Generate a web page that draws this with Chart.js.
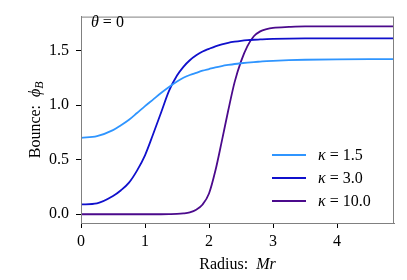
<!DOCTYPE html>
<html>
<head>
<meta charset="utf-8">
<script src="https://cdn.jsdelivr.net/npm/chart.js@4"></script>
<style>
  html, body { margin: 0; padding: 0; background: #fff; }
  #wrap { width: 407px; height: 280px; }
</style>
</head>
<body>
<div id="wrap"><canvas id="bounce" width="407" height="280"></canvas></div>
<script>
// radius grid (Mr) and bounce profiles
const radius  = [0, 0.25, 0.5, 0.625, 0.75, 0.875, 1.0, 1.125, 1.25, 1.375, 1.5, 1.6, 1.7, 1.8, 1.9, 2.0, 2.1, 2.2, 2.3, 2.4, 2.5, 2.6, 2.7, 2.8, 2.9, 3.0, 3.25, 3.5, 4.0, 4.5, 4.9];
const phiK15  = [0.70, 0.715, 0.77, 0.815, 0.865, 0.927, 0.99, 1.05, 1.11, 1.165, 1.215, 1.25, 1.275, 1.295, 1.315, 1.33, 1.345, 1.357, 1.367, 1.376, 1.383, 1.389, 1.394, 1.398, 1.402, 1.405, 1.411, 1.415, 1.419, 1.42, 1.42];
const phiK30  = [0.09, 0.10, 0.167, 0.22, 0.29, 0.40, 0.54, 0.73, 0.93, 1.13, 1.27, 1.35, 1.41, 1.455, 1.49, 1.515, 1.538, 1.556, 1.57, 1.58, 1.588, 1.594, 1.598, 1.601, 1.604, 1.606, 1.609, 1.61, 1.61, 1.61, 1.61];
const phiK100 = [0.0, 0.0, 0.0, 0.0, 0.0, 0.0, 0.0, 0.0, 0.0, 0.001, 0.003, 0.008, 0.018, 0.042, 0.09, 0.19, 0.40, 0.67, 0.95, 1.21, 1.40, 1.54, 1.63, 1.675, 1.695, 1.706, 1.715, 1.72, 1.72, 1.72, 1.72];
const kappas = ["1.5", "3.0", "10.0"];
const colors = ["#2f95ff", "#1010cc", "#4b0a8c"];
const xTicks = [0, 1, 2, 3, 4];
const yTicks = [0.0, 0.5, 1.0, 1.5];

const serif = '"Liberation Serif", "DejaVu Serif", serif';

function pts(ys) {
  return radius.map((r, i) => ({ x: r, y: ys[i] }));
}

// draw a run of text pieces, some italic, some subscript
function drawRich(ctx, parts, x, y, align) {
  const fontOf = p => (p.it ? "italic " : "") + (p.sub ? "12px " : "16px ") + serif;
  const widths = parts.map(p => {
    ctx.font = fontOf(p);
    return ctx.measureText(p.t).width;
  });
  const total = widths.reduce((a, b) => a + b, 0);
  let cx = align === "center" ? x - total / 2 : x;
  parts.forEach((p, i) => {
    ctx.font = fontOf(p);
    ctx.fillText(p.t, cx, y + (p.sub ? 3 : 0));
    cx += widths[i];
  });
}

const annotate = {
  id: "annotate",
  afterDraw(chart) {
    const ctx = chart.ctx;
    const a = chart.chartArea;
    ctx.save();
    // frame
    ctx.strokeStyle = "#808080";
    ctx.lineWidth = 1;
    ctx.strokeRect(a.left + 0.5, a.top + 0.5, a.right - a.left - 1, a.bottom - a.top);
    ctx.fillStyle = "#000";
    ctx.textBaseline = "alphabetic";
    ctx.textAlign = "left";
    // theta label
    drawRich(ctx, [{ t: "θ", it: true }, { t: " = 0" }], a.left + 10, 27, "left");
    // legend
    kappas.forEach((k, i) => {
      const y = 155 + i * 23;
      ctx.strokeStyle = colors[i];
      ctx.lineWidth = 1.8;
      ctx.beginPath();
      ctx.moveTo(272, y);
      ctx.lineTo(306, y);
      ctx.stroke();
      drawRich(ctx, [{ t: "κ", it: true }, { t: " = " + k }], 318, y + 5, "left");
    });
    // axis titles
    drawRich(ctx, [{ t: "Radius:  " }, { t: "Mr", it: true }], (a.left + a.right) / 2, 269, "center");
    ctx.translate(40, (a.top + a.bottom) / 2);
    ctx.rotate(-Math.PI / 2);
    drawRich(ctx, [{ t: "Bounce:  " }, { t: "ϕ", it: true }, { t: "B", it: true, sub: true }], 0, 0, "center");
    ctx.restore();
  }
};

new Chart(document.getElementById("bounce"), {
  type: "line",
  data: {
    datasets: [phiK15, phiK30, phiK100].map((ys, i) => ({
      label: "κ = " + kappas[i],
      data: pts(ys),
      borderColor: colors[i],
      borderWidth: 1.8,
      pointRadius: 0,
      cubicInterpolationMode: "monotone",
      fill: false
    }))
  },
  options: {
    responsive: false,
    animation: false,
    devicePixelRatio: 1,
    layout: { padding: { top: 8, right: 13, left: 0, bottom: 0 } },
    plugins: { legend: { display: false }, tooltip: { enabled: false } },
    scales: {
      x: {
        type: "linear",
        min: 0,
        max: 4.89,
        afterBuildTicks: s => { s.ticks = xTicks.map(v => ({ value: v })); },
        afterFit: s => { s.height = 57; },
        grid: { drawOnChartArea: false, drawTicks: true, tickLength: 5, color: "#000" },
        border: { color: "#808080" },
        ticks: { color: "#000", padding: 4, font: { family: serif, size: 16 }, callback: v => String(v) }
      },
      y: {
        min: -0.08,
        max: 1.81,
        afterBuildTicks: s => { s.ticks = yTicks.map(v => ({ value: v })); },
        afterFit: s => { s.width = 81; },
        grid: { drawOnChartArea: false, drawTicks: true, tickLength: 5, color: "#000" },
        border: { color: "#808080" },
        ticks: { color: "#000", padding: 7, font: { family: serif, size: 16 }, callback: v => v.toFixed(1) }
      }
    }
  },
  plugins: [annotate]
});
</script>
</body>
</html>
